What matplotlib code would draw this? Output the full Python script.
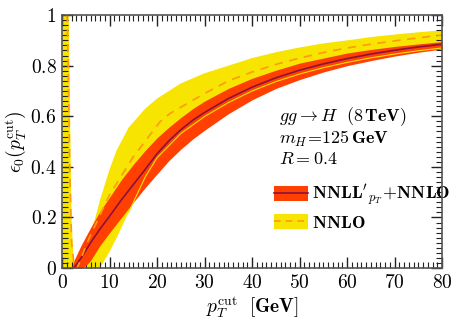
import numpy as np
import matplotlib
matplotlib.use('Agg')
import matplotlib.pyplot as plt
from matplotlib.patches import Patch
from matplotlib.lines import Line2D
from matplotlib.ticker import MultipleLocator, FixedLocator, FixedFormatter

plt.rcParams['mathtext.fontset'] = 'cm'
plt.rcParams['font.family'] = 'serif'
plt.rcParams['font.serif'] = ['DejaVu Serif']

# NNLL'_pT + NNLO: central curve and band
res_x = [2.5, 4, 6, 8, 10, 12.5, 15, 17.5, 20, 22.5, 25, 27.5, 30, 35, 40, 45, 50, 55, 60, 65, 70, 75, 80]
res_c = [0.0, 0.04, 0.10, 0.155, 0.205, 0.27, 0.33, 0.39, 0.452, 0.503, 0.547, 0.584, 0.615, 0.67, 0.715,
         0.752, 0.782, 0.807, 0.828, 0.846, 0.861, 0.874, 0.885]
band_x = [2, 2.5, 3, 4, 5, 6, 8, 10, 12.5, 15, 17.5, 20, 22.5, 25, 27.5, 30, 35, 40, 45, 50, 55, 60, 65, 70, 75, 80]
res_hi = [0.0, 0.03, 0.05, 0.09, 0.125, 0.16, 0.225, 0.28, 0.35, 0.41, 0.465, 0.515, 0.557, 0.595, 0.63, 0.66,
          0.71, 0.75, 0.782, 0.81, 0.83, 0.85, 0.864, 0.876, 0.886, 0.895]
res_lo = [0.0, 0.0, 0.0, 0.0, 0.01, 0.03, 0.09, 0.14, 0.2, 0.26, 0.318, 0.372, 0.425, 0.47, 0.51, 0.545,
          0.61, 0.665, 0.71, 0.745, 0.775, 0.8, 0.82, 0.838, 0.853, 0.866]

# NNLO: central curve and band (with the small-pT spike)
fo_x = [0.0, 1.4, 1.6, 1.75, 2.0, 2.4, 3.0, 3.8, 5, 6, 8, 10, 11.5, 14, 17.5, 20, 25, 30, 35, 40, 45, 50,
        55, 60, 65, 70, 75, 80]
fo_hi = [1.5, 1.0, 0.75, 0.5, 0.2, 0.03, 0.0, 0.0, 0.07, 0.13, 0.27, 0.39, 0.466, 0.555, 0.63, 0.67, 0.73,
         0.77, 0.80, 0.83, 0.853, 0.872, 0.888, 0.90, 0.913, 0.923, 0.932, 0.94]
fo_lo = [0.0, 0.0, 0.0, 0.0, 0.0, 0.0, 0.0, 0.0, 0.0, 0.0, 0.0, 0.065, 0.12, 0.22, 0.36, 0.436, 0.532,
         0.599, 0.654, 0.70, 0.737, 0.767, 0.792, 0.813, 0.831, 0.846, 0.859, 0.87]
fo_cx = [0.9, 1.3, 1.6, 2.0, 2.6, 3.2, 5.5, 10, 15, 20.6, 22.7, 30, 35, 40, 45, 50, 55, 60, 65, 70, 75, 80]
fo_c = [1.1, 0.8, 0.4, 0.1, 0.0, 0.0, 0.11, 0.29, 0.44, 0.578, 0.611, 0.69, 0.74, 0.775, 0.805, 0.83, 0.852,
        0.87, 0.885, 0.898, 0.91, 0.921]

YELLOW = '#f7e400'
RED = '#ff4000'
DARK = '#8c1040'
ORANGE = '#ff9a10'

fig = plt.figure(figsize=(4.6, 3.21), dpi=100)
ax = fig.add_axes([0.135, 0.165, 0.826, 0.788])

ax.fill_between(fo_x, fo_lo, fo_hi, color=YELLOW, lw=0, zorder=1)
ax.fill_between(band_x, res_lo, res_hi, color=RED, lw=0, zorder=2)
ax.plot(fo_x[13:], fo_lo[13:], color=YELLOW, lw=0.8, zorder=3)
ax.plot(res_x, res_c, color=DARK, lw=1.2, zorder=4)
ax.plot(fo_cx, fo_c, color=ORANGE, lw=1.2, ls=(0, (5, 4)), zorder=5)

ax.set_xlim(0, 80)
ax.set_ylim(0, 1)

xt = [0, 10, 20, 30, 40, 50, 60, 70, 80]
yt = [0, 0.2, 0.4, 0.6, 0.8, 1]
ax.xaxis.set_major_locator(FixedLocator(xt))
ax.xaxis.set_major_formatter(FixedFormatter([r'$\mathbf{%d}$' % v for v in xt]))
ax.yaxis.set_major_locator(FixedLocator(yt))
ax.yaxis.set_major_formatter(FixedFormatter([r'$\mathbf{0}$', r'$\mathbf{0.2}$', r'$\mathbf{0.4}$',
                                             r'$\mathbf{0.6}$', r'$\mathbf{0.8}$', r'$\mathbf{1}$']))
ax.xaxis.set_minor_locator(MultipleLocator(1))
ax.yaxis.set_minor_locator(MultipleLocator(0.02))
ax.tick_params(which='both', direction='in', top=True, right=True, color='#222222', labelsize=14)
ax.tick_params(which='major', length=8, width=1.0, pad=4)
ax.tick_params(which='minor', length=4, width=0.8)
for s in ax.spines.values():
    s.set_color('#555555')
    s.set_linewidth(1.2)
    s.set_zorder(6)

ax.set_xlabel(r'$p_T^{\rm cut}\ \ \mathbf{[GeV]}$', fontsize=14, labelpad=2)
ax.set_ylabel(r'$\epsilon_0(p_T^{\rm cut})$', fontsize=14, labelpad=2)

ax.text(0.572, 0.598, r'$gg\to H\ \ \mathbf{(8\,TeV)}$', transform=ax.transAxes, fontsize=13, va='center')
ax.text(0.572, 0.512, r'$m_H\!=\!\mathbf{125\,GeV}$', transform=ax.transAxes, fontsize=13, va='center')
ax.text(0.572, 0.432, r'$R=\mathbf{0.4}$', transform=ax.transAxes, fontsize=13, va='center')

h1 = (Patch(color=RED, lw=0), Line2D([], [], color=DARK, lw=1.2))
h2 = (Patch(color=YELLOW, lw=0), Line2D([], [], color=ORANGE, lw=1.2, ls=(0, (4, 3))))
ax.legend([h1, h2], [r"$\mathbf{NNLL}'_{p_T}\!+\!\mathbf{NNLO}$", r'$\mathbf{NNLO}$'],
          loc='upper left', bbox_to_anchor=(0.558, 0.335), frameon=False, fontsize=13,
          handlelength=1.9, handleheight=0.95, handletextpad=0.2, labelspacing=0.3,
          borderpad=0, borderaxespad=0)

fig.savefig('out.png', dpi=100)
